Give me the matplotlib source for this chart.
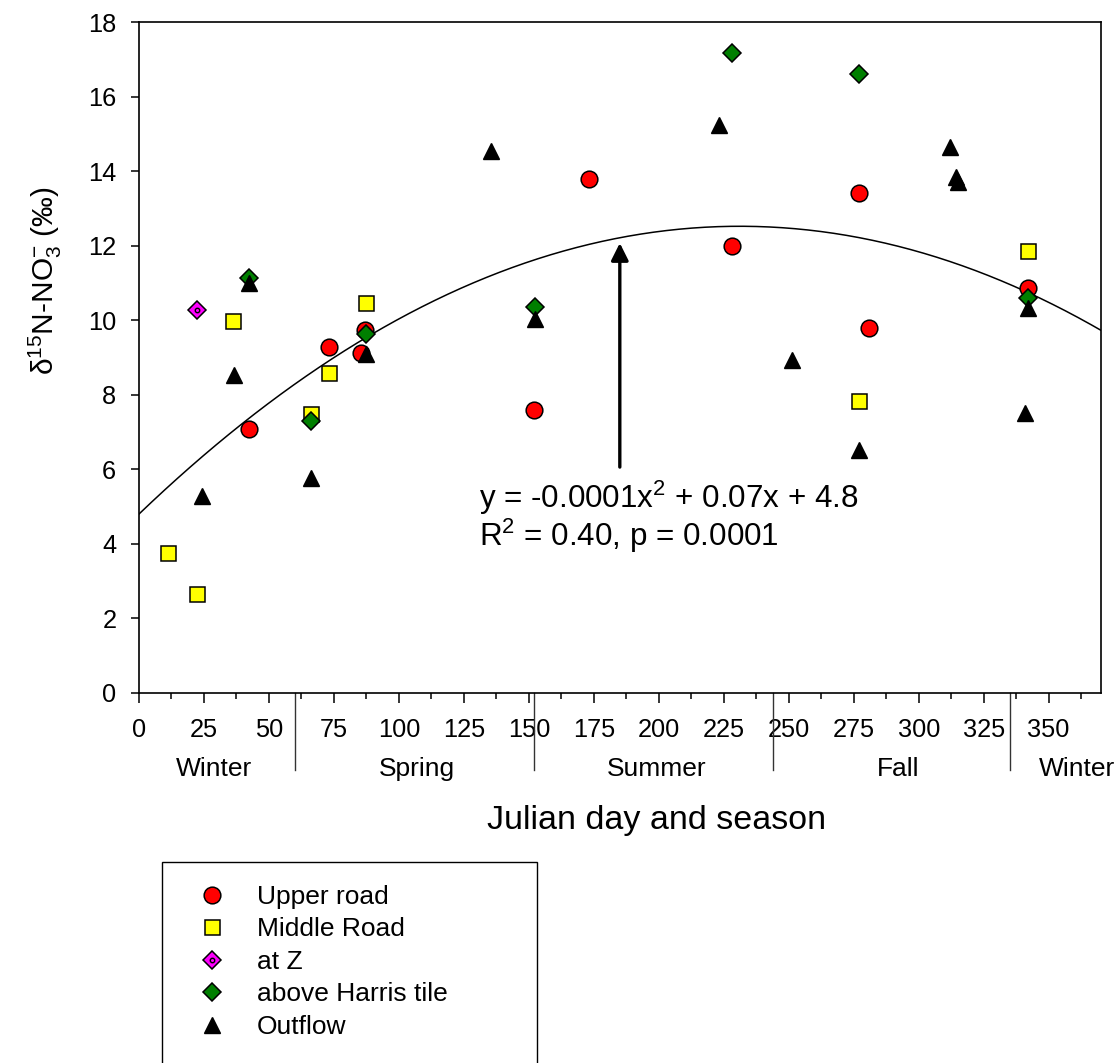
import matplotlib
matplotlib.use("Agg")
import matplotlib.pyplot as plt
from matplotlib.lines import Line2D
from matplotlib.patches import Rectangle
import numpy as np

plt.rcParams['font.family'] = ['Liberation Sans', 'DejaVu Sans']
plt.rcParams['mathtext.fontset'] = 'custom'
plt.rcParams['mathtext.rm'] = 'Liberation Sans'
plt.rcParams['mathtext.it'] = 'Liberation Sans:italic'
plt.rcParams['mathtext.default'] = 'regular'

# data (Julian day, delta15N)
upper_day = [42.3, 73.1, 86.9, 85.6, 151.9, 173, 228, 277, 280.8, 341.9]
upper_val = [7.08, 9.28, 9.74, 9.13, 7.59, 13.79, 11.99, 13.41, 9.79, 10.86]

middle_day = [11.2, 22.3, 36.2, 87.3, 73.1, 66.2, 277, 341.9]
middle_val = [3.76, 2.66, 9.98, 10.46, 8.58, 7.48, 7.83, 11.86]

atz_day = [22.3]
atz_val = [10.27]

harris_day = [42.3, 87.3, 66.2, 152.3, 228, 277, 341.9]
harris_val = [11.13, 9.63, 7.30, 10.35, 17.17, 16.6, 10.6]

out_day = [42.3, 36.5, 24.2, 66.2, 87.3, 135.4, 152.3, 223, 251.2, 312, 314.2, 315, 277, 340.8, 341.9]
out_val = [11.0, 8.53, 5.28, 5.77, 9.09, 14.54, 10.03, 15.24, 8.93, 14.65, 13.84, 13.72, 6.52, 7.51, 10.33]

# quadratic fit coefficients (a x^2 + b x + c)
fit_a, fit_b, fit_c = -0.0001445, 0.0668, 4.8

season_edges = [60, 152, 244, 335]
season_names = ['Winter', 'Spring', 'Summer', 'Fall', 'Winter']
season_mid = [29, 107, 199, 292, 361]

fig = plt.figure(figsize=(11.19, 10.63), dpi=100)
ax = fig.add_axes([0.1242, 0.3481, 0.8594, 0.6312])

xf = np.linspace(0, 370, 300)
ax.plot(xf, fit_a * xf**2 + fit_b * xf + fit_c, color='k', lw=1.1, zorder=1)

ax.annotate('', xy=(185, 12.07), xytext=(185, 6.06),
            arrowprops=dict(arrowstyle='-|>', lw=2.4, color='k',
                            mutation_scale=26, shrinkA=0, shrinkB=0))
ax.text(131, 4.96, 'y = -0.0001x$^{2}$ + 0.07x + 4.8', fontsize=22.6,
        ha='left', va='baseline')
ax.text(131, 3.94, 'R$^{2}$ = 0.40, p = 0.0001', fontsize=22.6,
        ha='left', va='baseline')

h_up, = ax.plot(upper_day, upper_val, 'o', ms=12, mfc='#FF0000', mec='k', mew=1.1, ls='none', zorder=3)
h_mid, = ax.plot(middle_day, middle_val, 's', ms=10.8, mfc='#FFFF00', mec='k', mew=1.1, ls='none', zorder=3)
h_z1, = ax.plot(atz_day, atz_val, 'D', ms=9.3, mfc='#FF00FF', mec='k', mew=1.1, ls='none', zorder=3)
h_z2, = ax.plot(atz_day, atz_val, 'o', ms=3.2, mfc='#FF00FF', mec='k', mew=1.0, ls='none', zorder=4)
h_har, = ax.plot(harris_day, harris_val, 'D', ms=9.3, mfc='#007F00', mec='k', mew=1.1, ls='none', zorder=3)
h_out, = ax.plot(out_day, out_val, '^', ms=12, mfc='k', mec='k', mew=1.0, ls='none', zorder=3)

ax.set_xlim(0, 370)
ax.set_ylim(0, 18)
ax.set_xticks(np.arange(0, 351, 25))
ax.set_xticks(np.arange(12.5, 370, 25), minor=True)
ax.set_yticks(np.arange(0, 19, 2))
for s in ax.spines.values():
    s.set_linewidth(1.2)
ax.tick_params(axis='x', which='major', direction='out', length=7.5, width=1.1, labelsize=18.3, pad=10.5)
ax.tick_params(axis='x', which='minor', direction='out', length=4.3, width=1.1)
ax.tick_params(axis='y', which='major', direction='out', length=5.8, width=1.1, labelsize=18.3, pad=10.5)

# season separators and names below the axis
for e in season_edges:
    ax.add_line(Line2D([e, e], [0, -0.115], transform=ax.get_xaxis_transform(),
                       color='#333333', lw=1.0, clip_on=False))
for m, n in zip(season_mid, season_names):
    ax.text(m, -0.114, n, transform=ax.get_xaxis_transform(), fontsize=19,
            ha='center', va='center')

ax.set_xlabel('Julian day and season', fontsize=24.5, va='center')
ax.xaxis.set_label_coords(0.5386, -0.190)
ax.set_ylabel(r'$\delta^{15}$N-NO$_{3}^{-}$ (‰)', fontsize=21.5, va='center')
ax.yaxis.set_label_coords(-0.097, 0.615)

# legend box runs past the bottom edge
fig.patches.append(Rectangle((162 / 1119, -0.02), (537 - 162) / 1119, (1063 - 862) / 1063 + 0.02,
                             transform=fig.transFigure, fill=False, ec='k', lw=1.0))
fig.legend([h_up, h_mid, (h_z1, h_z2), h_har, h_out],
           ['Upper road', 'Middle Road', 'at Z', 'above Harris tile', 'Outflow'],
           loc='upper left', bbox_to_anchor=(199 / 1119, 1 - 885 / 1063),
           frameon=False, fontsize=19, handlelength=1.0, handletextpad=1.2,
           labelspacing=0.32, borderpad=0, borderaxespad=0)

fig.savefig('out.png', dpi=100)
